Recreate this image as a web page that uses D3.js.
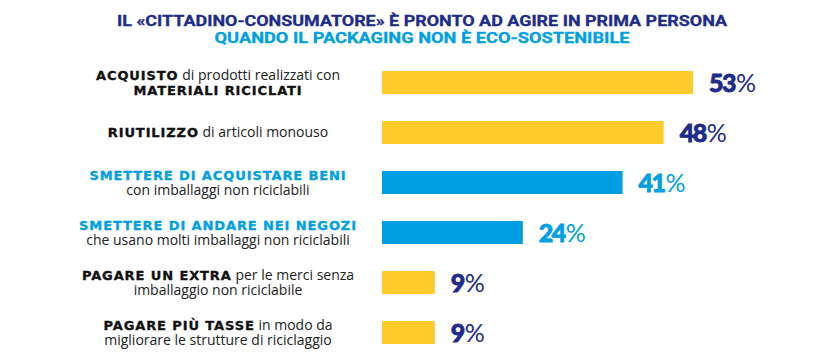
<!DOCTYPE html>
<html>
<head>
<meta charset="utf-8">
<script src="https://cdn.jsdelivr.net/npm/d3@7"></script>
<style>
  html, body { margin: 0; padding: 0; background: #fff; }
  svg { display: block; }
</style>
</head>
<body>
<svg id="chart" width="837" height="360"></svg>
<script>
// ---- DATA ----
const titleLines = [
  "IL «CITTADINO-CONSUMATORE» È PRONTO AD AGIRE IN PRIMA PERSONA",
  "QUANDO IL PACKAGING NON È ECO-SOSTENIBILE"
];
const values = [53, 48, 41, 24, 9, 9];
const highlighted = [false, false, true, true, false, false];
// each category: list of lines, each line: list of [text, isBold]
const categories = [
  [[["ACQUISTO", true], [" di prodotti realizzati con", false]], [["MATERIALI RICICLATI", true]]],
  [[["RIUTILIZZO", true], [" di articoli monouso", false]]],
  [[["SMETTERE DI ACQUISTARE BENI", true]], [["con imballaggi non riciclabili", false]]],
  [[["SMETTERE DI ANDARE NEI NEGOZI", true]], [["che usano molti imballaggi non riciclabili", false]]],
  [[["PAGARE UN EXTRA", true], [" per le merci senza", false]], [["imballaggio non riciclabile", false]]],
  [[["PAGARE PIÙ TASSE", true], [" in modo da", false]], [["migliorare le strutture di riciclaggio", false]]]
];
const valueLabels = values.map(v => [String(v), "%"]);

// ---- STYLE ----
const NAVY = "#1d2b8b", BLUE = "#009fe3", YELLOW = "#ffcb2b", BLACK = "#111";

const svg = d3.select("#chart");

// title
const titleColors = [NAVY, BLUE];
const titleY = [26, 43];
const titleW = [610, 415];
svg.selectAll("text.title").data(titleLines).join("text")
  .attr("class", "title")
  .attr("x", 422)
  .attr("y", (d, i) => titleY[i])
  .attr("text-anchor", "middle")
  .attr("fill", (d, i) => titleColors[i])
  .attr("stroke", (d, i) => titleColors[i])
  .attr("stroke-width", 0.3)
  .style("font-family", "Roboto, 'Liberation Sans', sans-serif")
  .style("font-weight", 700)
  .style("font-size", "15px")
  .attr("textLength", (d, i) => titleW[i])
  .attr("lengthAdjust", "spacingAndGlyphs")
  .text(d => d);

const x = d3.scaleLinear().domain([0, 53]).range([382, 693]);
const y = d3.scaleBand().domain(d3.range(values.length))
  .range([57.5, 357.5]).paddingInner(0.54).paddingOuter(0.27);

// bars
svg.selectAll("rect.bar").data(values).join("rect")
  .attr("class", "bar")
  .attr("x", x(0))
  .attr("y", (d, i) => y(i))
  .attr("width", d => x(d) - x(0))
  .attr("height", y.bandwidth())
  .attr("fill", (d, i) => highlighted[i] ? BLUE : YELLOW);

// value labels
const vl = svg.selectAll("text.val").data(valueLabels).join("text")
  .attr("class", "val")
  .attr("x", (d, i) => x(values[i]) + 16)
  .attr("y", (d, i) => y(i) + y.bandwidth() / 2 + 9.5)
  .attr("fill", (d, i) => highlighted[i] ? BLUE : NAVY)
  .style("font-family", "Lato, 'Liberation Sans', sans-serif")
  .style("font-size", "25px")
  .style("letter-spacing", "-1.5px");
vl.append("tspan").style("font-weight", 900)
  .attr("stroke", (d, i) => highlighted[i] ? BLUE : NAVY).attr("stroke-width", 0.8)
  .text(d => d[0]);
vl.append("tspan").style("font-weight", 400).attr("dx", 1).text(d => d[1]);

// category labels (one text element per category, lines as tspans)
const labelX = 218;
categories.forEach((lines, i) => {
  const cy = y(i) + y.bandwidth() / 2;
  const n = lines.length;
  const first = n === 1 ? cy + 4.5 : cy - 3;
  const color = highlighted[i] ? BLUE : BLACK;
  const t = svg.append("text")
    .attr("class", "cat")
    .attr("x", labelX)
    .attr("y", first)
    .attr("text-anchor", "middle")
    .attr("fill", BLACK);
  lines.forEach((parts, j) => {
    parts.forEach(([txt, bold], k) => {
      const ts = t.append("tspan").text(txt);
      if (k === 0 && j > 0) ts.attr("x", labelX).attr("dy", 15);
      if (bold) {
        ts.style("font-family", "'DejaVu Sans', sans-serif")
          .style("font-weight", 700)
          .style("font-size", "13px")
          .style("letter-spacing", "0.9px")
          .attr("stroke", color).attr("stroke-width", 0.35)
          .attr("fill", color);
      } else {
        ts.style("font-family", "'Open Sans', Lato, sans-serif")
          .style("font-weight", 400)
          .style("font-size", "14px")
          .attr("fill", "#222");
      }
    });
  });
});
</script>
</body>
</html>
